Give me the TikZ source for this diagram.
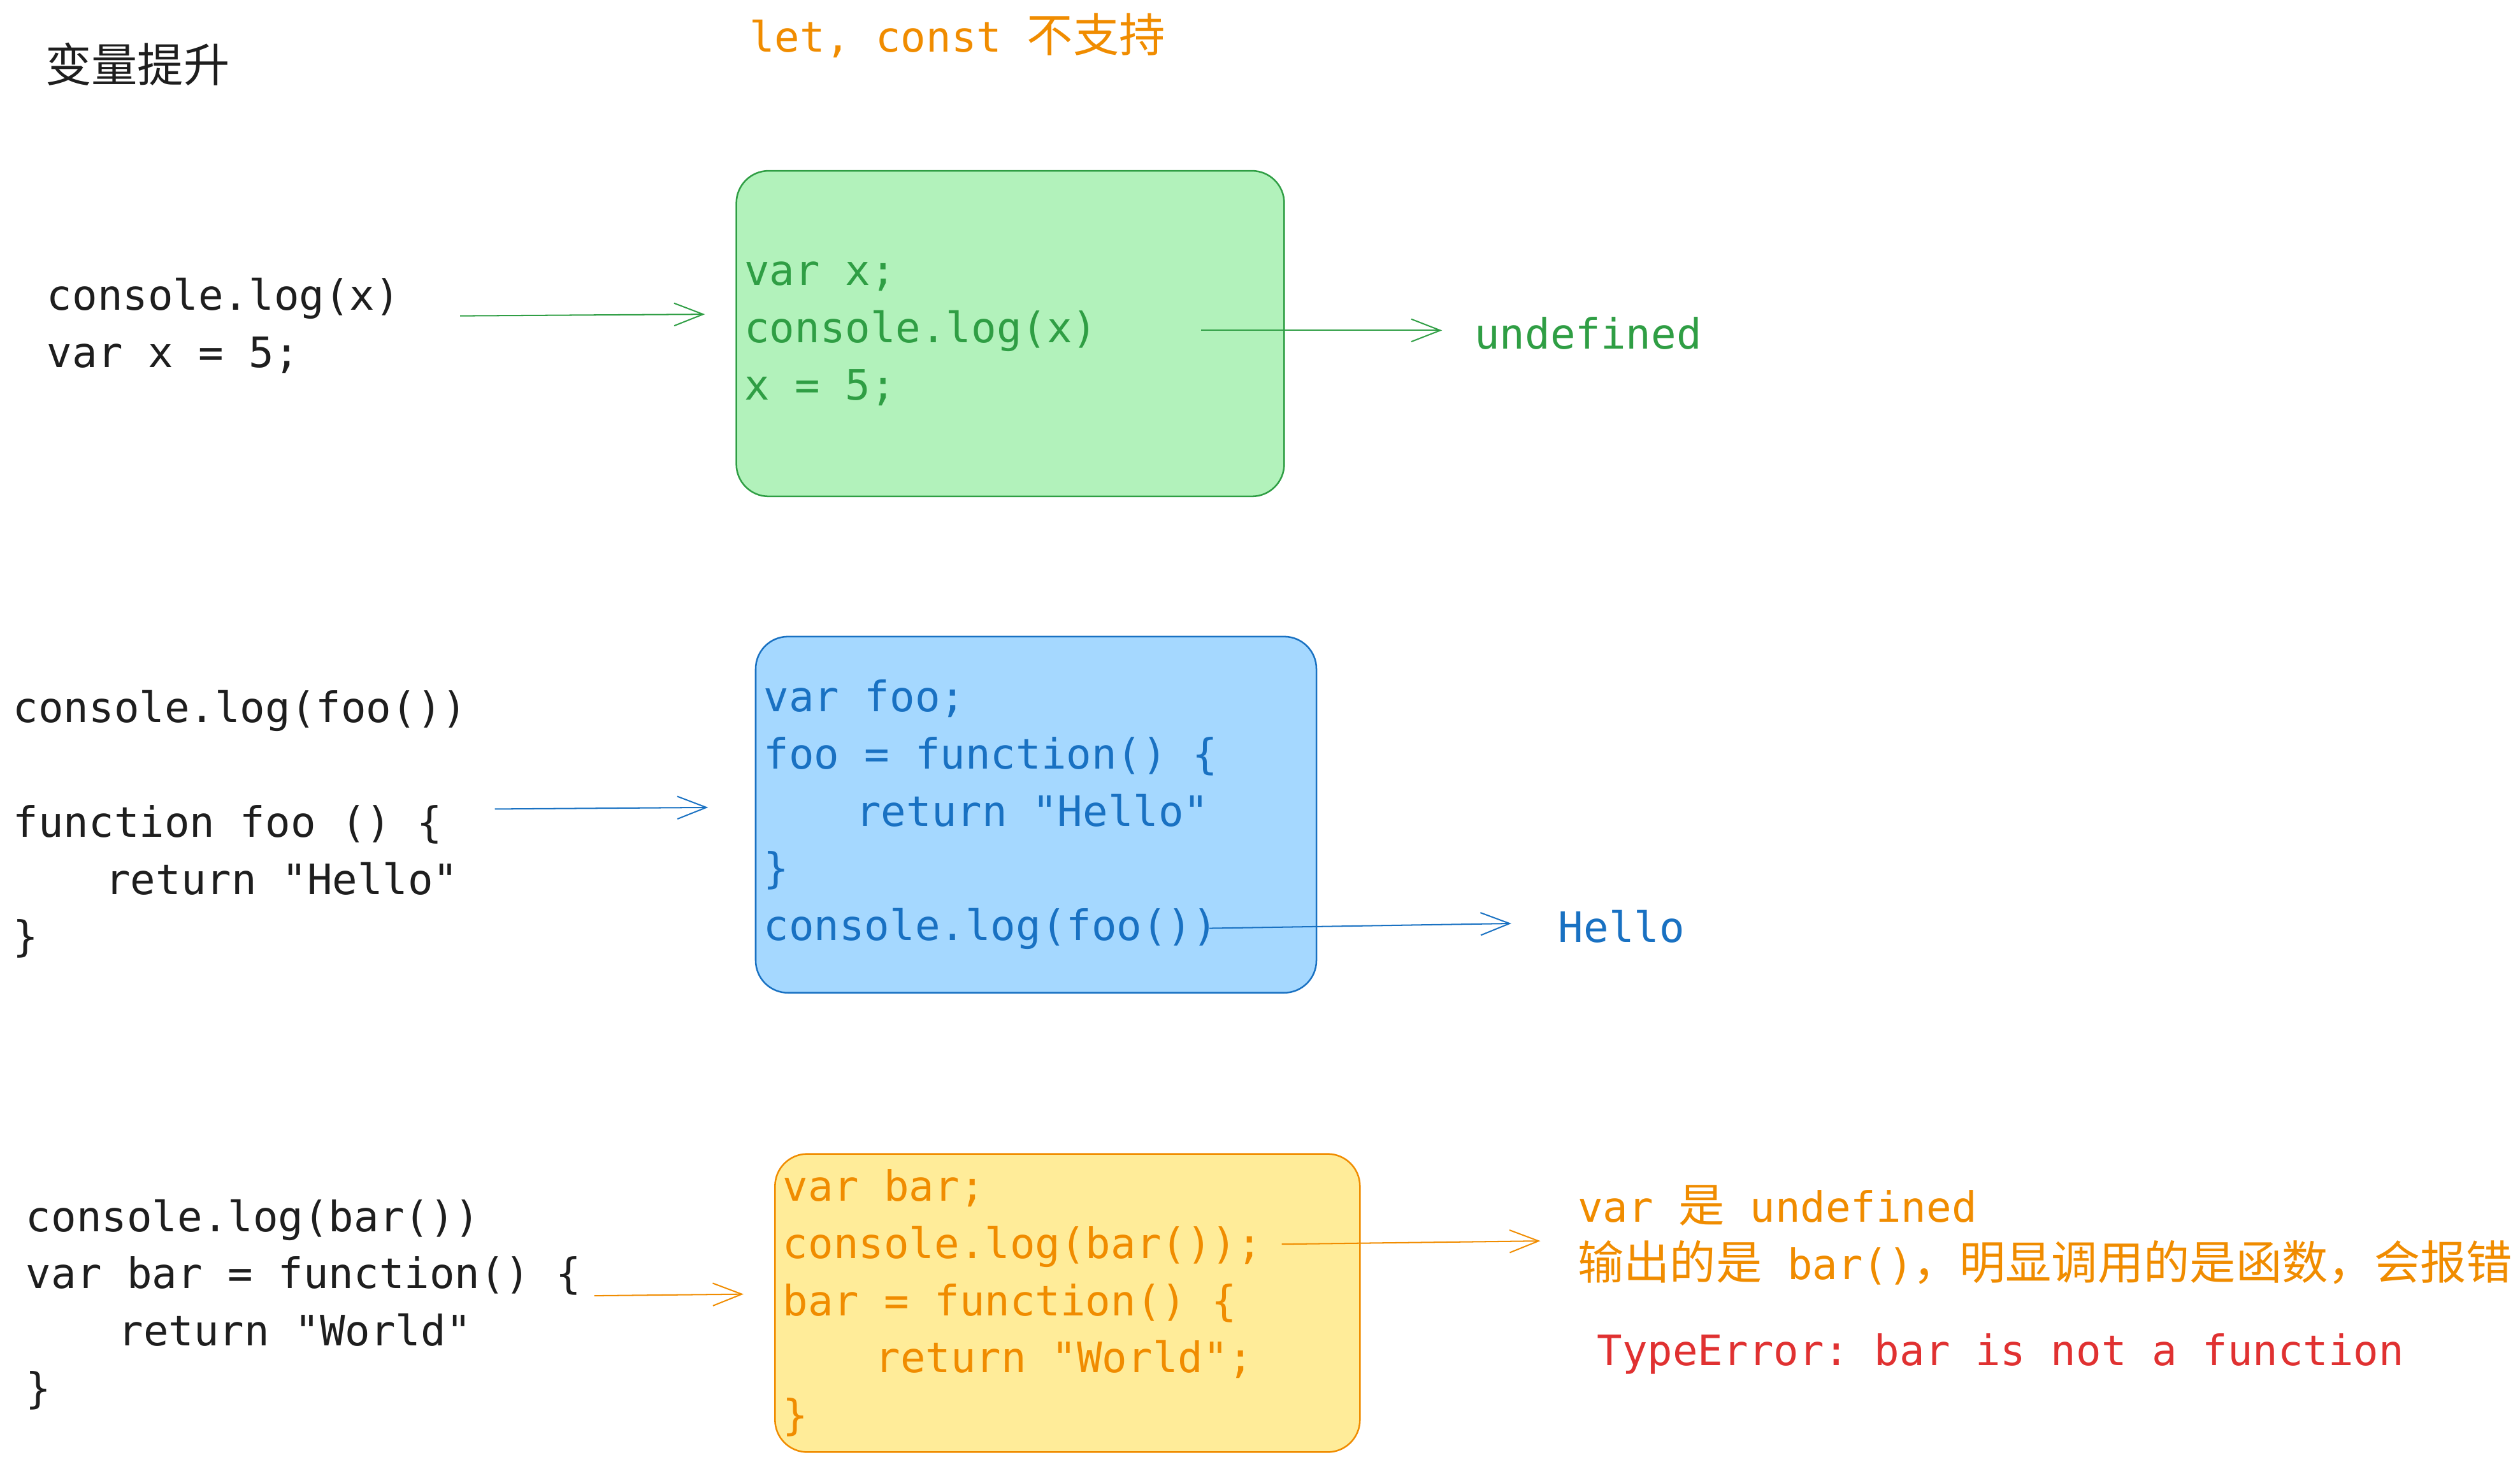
\documentclass[tikz,border=0pt]{standalone}
\usepackage{fontspec}
\setmonofont{DejaVu Sans Mono}
\newfontfamily\cjk[Scale=1.1]{Noto Sans CJK SC}
\usetikzlibrary{arrows.meta}
\definecolor{ink}{HTML}{1E1E1E}
\definecolor{grnline}{HTML}{2F9E44}
\definecolor{grnfill}{HTML}{B2F2BB}
\definecolor{bluline}{HTML}{1971C2}
\definecolor{blufill}{HTML}{A5D8FF}
\definecolor{orgline}{HTML}{F08C00}
\definecolor{orgfill}{HTML}{FFEC99}
\definecolor{errred}{HTML}{E03131}
\newcommand{\codefont}{\fontsize{26}{35.5}\selectfont\ttfamily}
\newcommand{\ind}{\hspace*{2.2em}}
\tikzstyle{code}=[font=\codefont,align=left,inner sep=0pt,anchor=west]
\tikzstyle{hoist}=[rounded corners=20pt,line width=1pt,inner xsep=5pt,inner ysep=0pt,align=flush left,font=\codefont]
\tikzstyle{hit}=[-{Straight Barb[length=18pt,width=14pt]},line width=0.8pt]
\begin{document}
\begin{tikzpicture}[x=1pt,y=-1pt]
\useasboundingbox (0,0) rectangle (1564,907);
\node[code,text=ink] (title) at (28,40) {{\cjk 变量提升}};
\node[code,text=orgline] (note) at (465,22) {let, const {\cjk 不支持}};

\node[code,text=ink] (codeA) at (29,202) {console.log(x)\\var x = 5;};
\node[hoist,draw=grnline,fill=grnfill,text=grnline,text width=330pt,minimum height=202pt] (gbox) at (627,207) {var x;\\console.log(x)\\x = 5;};
\node[code,text=grnline] (outA) at (915,207) {undefined};
\draw[hit,grnline] ([shift={(37,-6)}]codeA.east) -- ([shift={(-19,-12)}]gbox.west);
\draw[hit,grnline] ([shift={(-52,-2)}]gbox.east) -- ([shift={(-20,-2)}]outA.west);

\node[code,text=ink] (codeB) at (8,511.5) {console.log(foo())\\[35.5pt]function foo () \{\\\ind return "Hello"\\\}};
\node[hoist,draw=bluline,fill=blufill,text=bluline,text width=338pt,minimum height=221pt] (bbox) at (643,505.5) {var foo;\\foo = function() \{\\\ind return "Hello"\\\}\\console.log(foo())};
\node[code,text=bluline] (outB) at (967,575) {Hello};
\draw[hit,bluline] ([shift={(17,-9.5)}]codeB.east) -- ([shift={(-29,-4.5)}]bbox.west);
\draw[hit,bluline] ([shift={(-67,70.5)}]bbox.east) -- ([shift={(-29,-2)}]outB.west);

\node[code,text=ink] (codeC) at (16,809.5) {console.log(bar())\\var bar = function() \{\\\ind return "World"\\\}};
\node[hoist,draw=orgline,fill=orgfill,text=orgline,text width=353pt,minimum height=185pt] (ybox) at (662.5,808.5) {var bar;\\console.log(bar());\\bar = function() \{\\\ind return "World";\\\}};
\node[code,text=orgline] (outC) at (979,766.5) {var {\cjk 是} undefined\\{\cjk 输出的是} bar(){\cjk ，明显调用的是函数，会报错}};
\node[code,text=errred] (err) at (991,840) {TypeError: bar is not a function};
\draw[hit,orgline] ([shift={(8,-5.5)}]codeC.east) -- ([shift={(-19,-5.5)}]ybox.west);
\draw[hit,orgline] ([shift={(-49,-36.5)}]ybox.east) -- ([shift={(-23,3.5)}]outC.west);
\end{tikzpicture}
\end{document}
